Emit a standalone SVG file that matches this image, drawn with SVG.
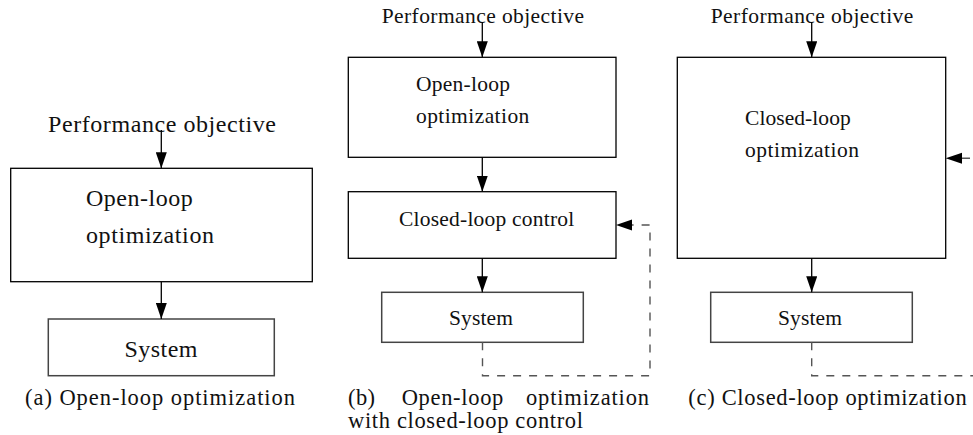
<svg xmlns="http://www.w3.org/2000/svg" width="973" height="435" viewBox="0 0 973 435" font-family="Liberation Serif, Times New Roman, serif">
<defs>
<marker id="ah" markerWidth="16" markerHeight="11" refX="16" refY="5.5" orient="auto" markerUnits="userSpaceOnUse">
<path d="M0,0 L16,5.5 L0,11 Z" fill="#000"/>
</marker>
<style>
text{fill:#111}
.box{fill:#fff;stroke:#000;stroke-width:1.3}
.sys{fill:#fff;stroke:#444;stroke-width:1.5}
.arr{stroke:#000;stroke-width:1.3;fill:none}
.dash{stroke:#555;stroke-width:1.4;fill:none;stroke-dasharray:8,8}
.ta{font-size:24px}
.tc{font-size:22.5px}
.tb{font-size:21.5px}
</style>
</defs>
<rect width="973" height="435" fill="#fff"/>

<!-- Panel (a) -->
<g id="a-objective"><text class="ta" x="48" y="132" textLength="228">Performance objective</text></g>
<g id="a-openloop">
<rect class="box" x="10.7" y="168.3" width="301.6" height="113.4"/>
<text class="ta" x="86" y="206" textLength="106.7">Open-loop</text>
<text class="ta" x="86" y="243" textLength="128">optimization</text>
</g>
<g id="a-system">
<rect class="sys" x="48.3" y="319" width="226" height="56.7"/>
<text class="ta" x="124.5" y="357" textLength="73">System</text>
</g>
<g id="a-caption"><text class="tc" x="25" y="405" textLength="270">(a) Open-loop optimization</text></g>

<!-- Panel (b) -->
<g id="b-objective"><text class="tb" x="381.7" y="23" textLength="202.3">Performance objective</text></g>
<g id="b-openloop">
<rect class="box" x="348.3" y="57.3" width="267.7" height="100"/>
<text class="tb" x="416" y="90.7" textLength="94">Open-loop</text>
<text class="tb" x="416" y="123.3" textLength="113.3">optimization</text>
</g>
<g id="b-control">
<rect class="box" x="348.3" y="191.7" width="267.7" height="66.6"/>
<text class="tb" x="399" y="226" textLength="175.3">Closed-loop control</text>
</g>
<g id="b-system">
<rect class="sys" x="381.7" y="292.3" width="201.6" height="50"/>
<text class="tb" x="449" y="325" textLength="64">System</text>
</g>
<g id="b-caption">
<text class="tc" x="348" y="405" textLength="27">(b)</text>
<text class="tc" x="401.7" y="405" textLength="101.6">Open-loop</text>
<text class="tc" x="526" y="405" textLength="123">optimization</text>
<text class="tc" x="348" y="428" textLength="235">with closed-loop control</text>
</g>

<!-- Panel (c) -->
<g id="c-objective"><text class="tb" x="710.7" y="23" textLength="202.6">Performance objective</text></g>
<g id="c-closedloop">
<rect class="box" x="677.3" y="57.3" width="268.4" height="201"/>
<text class="tb" x="745" y="125" textLength="105.7">Closed-loop</text>
<text class="tb" x="745" y="156.7" textLength="114">optimization</text>
</g>
<g id="c-system">
<rect class="sys" x="710.7" y="292.3" width="201.6" height="50"/>
<text class="tb" x="778" y="325" textLength="64">System</text>
</g>
<g id="c-caption"><text class="tc" x="688.3" y="405" textLength="278.4">(c) Closed-loop optimization</text></g>

<!-- Connectors -->
<g id="connectors">
<line class="arr" x1="161.3" y1="130" x2="161.3" y2="168.3" marker-end="url(#ah)"/>
<line class="arr" x1="161.3" y1="281.7" x2="161.3" y2="319" marker-end="url(#ah)"/>

<line class="arr" x1="482.3" y1="22" x2="482.3" y2="57.3" marker-end="url(#ah)"/>
<line class="arr" x1="482.3" y1="157.3" x2="482.3" y2="191.7" marker-end="url(#ah)"/>
<line class="arr" x1="482.3" y1="258.3" x2="482.3" y2="292.3" marker-end="url(#ah)"/>
<path class="dash" d="M482.5,342.3 V375.7 H650 V225 H632"/>
<path d="M616,225 L632,219.5 L632,230.5 Z" fill="#000"/>

<line class="arr" x1="811.7" y1="22" x2="811.7" y2="57.3" marker-end="url(#ah)"/>
<line class="arr" x1="811.7" y1="258.3" x2="811.7" y2="292.3" marker-end="url(#ah)"/>
<path class="dash" d="M811.7,342.3 V375.7 H980"/>
<path class="dash" d="M962,158.3 H980"/>
<path d="M945.7,158.3 L962,152.8 L962,163.8 Z" fill="#000"/>
</g>
</svg>
